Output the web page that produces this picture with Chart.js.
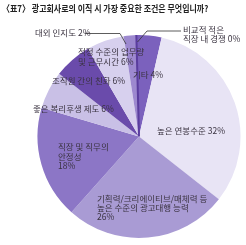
<!DOCTYPE html>
<html>
<head>
<meta charset="utf-8">
<script src="https://cdn.jsdelivr.net/npm/chart.js@4"></script>
<style>
html,body{margin:0;padding:0;background:#fff;}
#wrap{position:relative;width:246px;height:245px;}
</style>
</head>
<body>
<div id="wrap"><canvas id="c" width="246" height="245"></canvas></div>
<script>
// Data
const title = "〈표7〉 광고회사로의 이직 시 가장 중요한 조건은 무엇입니까?";
const categories = [
  "비교적 적은 직장 내 경쟁",
  "기타",
  "높은 연봉수준",
  "기획력/크리에이티브/매체력 등 높은 수준의 광고대행 능력",
  "직장 및 직무의 안정성",
  "좋은 복리후생 제도",
  "조직원 간의 친화",
  "적정 수준의 업무량 및 근무시간",
  "대외 인지도"
];
const values = [0, 4, 32, 26, 18, 6, 6, 6, 2];
const labelLines = [
  ["비교적 적은", "직장 내 경쟁 0%"],
  ["기타 4%"],
  ["높은 연봉수준 32%"],
  ["기획력/크리에이티브/매체력 등", "높은 수준의 광고대행 능력", "26%"],
  ["직장 및 직무의", "안정성", "18%"],
  ["좋은 복리후생 제도 6%"],
  ["조직원 간의 친화 6%"],
  ["적정 수준의 업무량", "및 근무시간 6%"],
  ["대외 인지도 2%"]
];

// Styles / layout (not data)
const colors = ["#5a3d9e","#7b61bd","#e8e4f5","#a99bd4","#8c76c6","#c9c0e6","#6a4bab","#d7d0ee","#9d89cf"];
const labelPos = [
  [183,30,9],[133,75,9],[157,131,9],[97,199,9],[58,147,9.5],[33,109,9],[52,81,9],[78,52,10],[35,33,9]
];

const textPlugin = {
  id: 'texts',
  afterDatasetsDraw(chart) {
    const ctx = chart.ctx;
    const meta = chart.getDatasetMeta(0);
    const arc0 = meta.data[0];
    ctx.save();
    // 0% slice line
    const a = arc0.startAngle;
    ctx.strokeStyle = colors[0];
    ctx.lineWidth = 2;
    ctx.beginPath();
    ctx.moveTo(arc0.x, arc0.y);
    ctx.lineTo(arc0.x + arc0.outerRadius*Math.cos(a), arc0.y + arc0.outerRadius*Math.sin(a));
    ctx.stroke();
    // leader lines
    ctx.strokeStyle = "#333";
    ctx.lineWidth = 0.8;
    ctx.beginPath();
    ctx.moveTo(181, 31); ctx.lineTo(147, 31); ctx.lineTo(137.5, 42);
    ctx.stroke();
    ctx.beginPath();
    ctx.moveTo(85, 33.5); ctx.lineTo(120, 33.5); ctx.lineTo(126, 44);
    ctx.stroke();
    // title (condensed)
    ctx.fillStyle = "#222";
    ctx.font = "bold 9.5px 'Noto Sans CJK KR'";
    ctx.textBaseline = "middle";
    ctx.textAlign = "left";
    ctx.save();
    ctx.translate(2, 8);
    ctx.scale(0.84, 1);
    ctx.fillText(title, 0, 0);
    ctx.restore();
    // labels
    ctx.fillStyle = "#3a3340";
    ctx.font = "8.5px 'Noto Sans CJK KR'";
    labelLines.forEach((lines, i) => {
      const [x, y, lh] = labelPos[i];
      lines.forEach((t, j) => ctx.fillText(t, x, y + j*lh));
    });
    ctx.restore();
  }
};

new Chart(document.getElementById('c'), {
  type: 'pie',
  data: {
    labels: categories,
    datasets: [{
      data: values,
      backgroundColor: colors,
      borderWidth: 0
    }]
  },
  options: {
    responsive: false,
    animation: false,
    rotation: -1.5,
    layout: { padding: { left: 37, right: 5, top: 35, bottom: 7 } },
    plugins: { legend: { display: false }, tooltip: { enabled: false }, title: { display: false } }
  },
  plugins: [textPlugin]
});
</script>
</body>
</html>
